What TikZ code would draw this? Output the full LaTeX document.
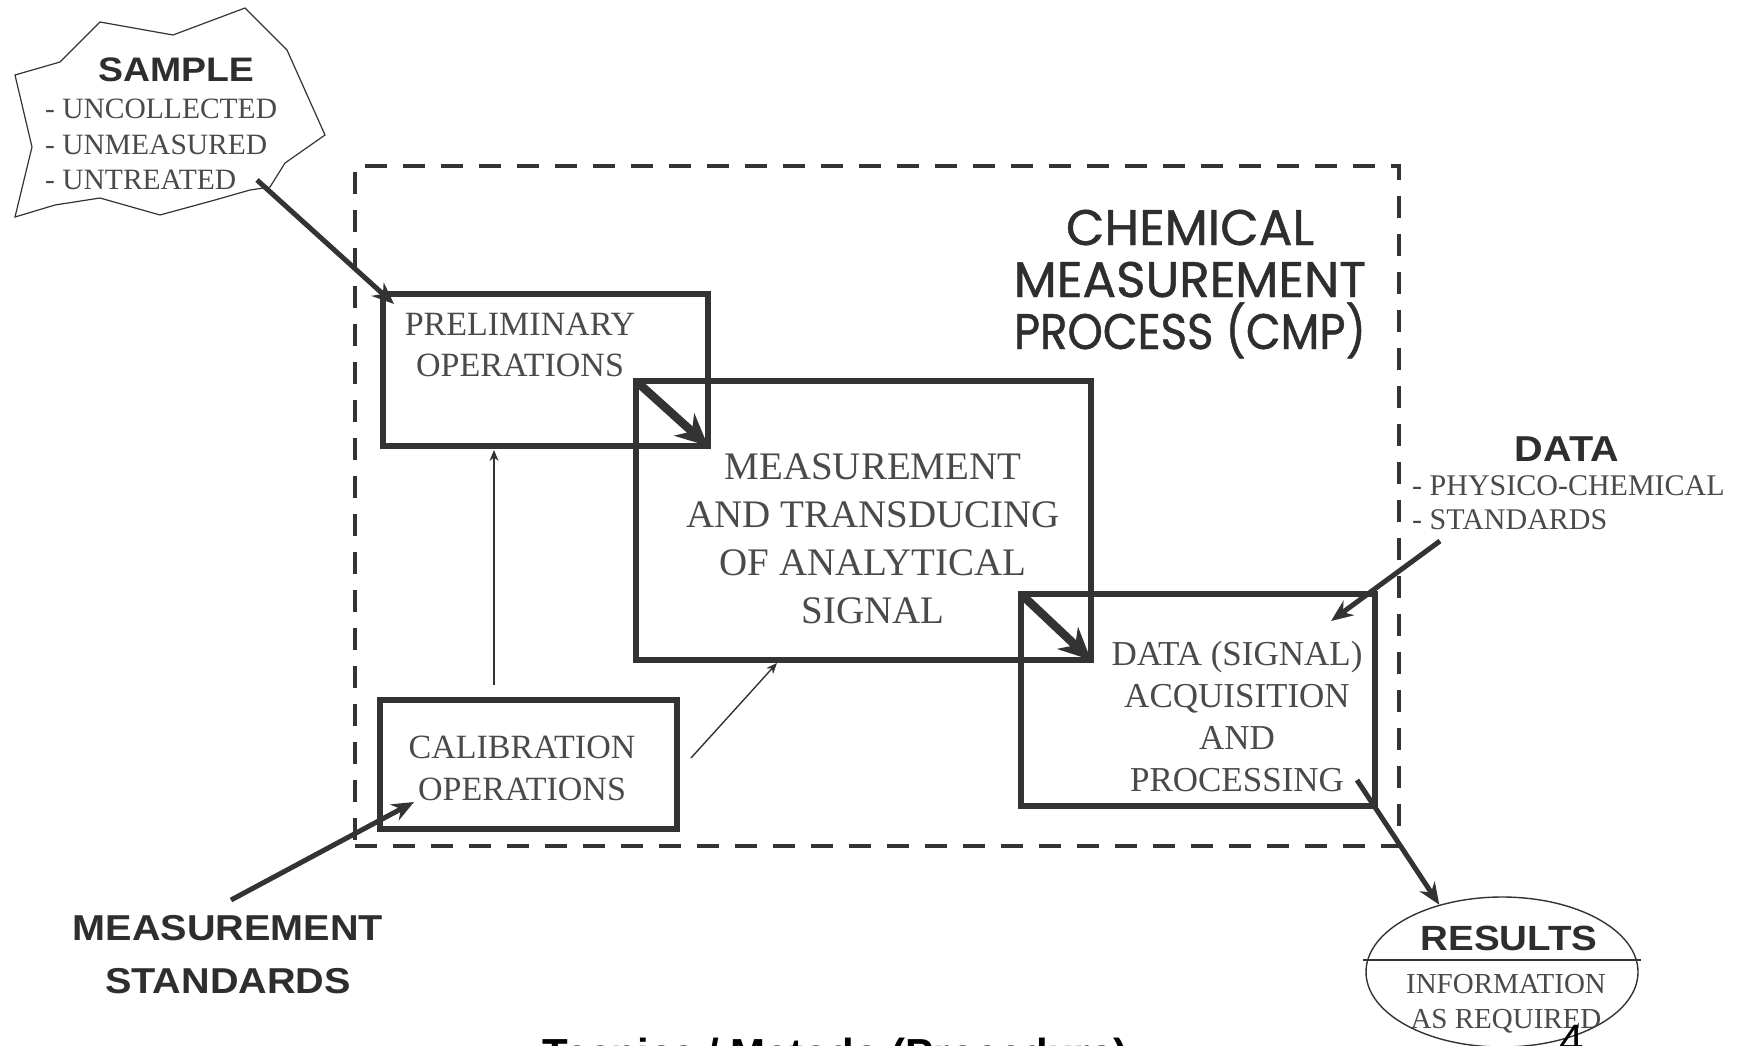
\documentclass[tikz,border=0pt]{standalone}
\usepackage{fontspec}
\setmainfont{Liberation Serif}
\newfontfamily\hdfont[FakeStretch=1.1]{Liberation Sans}
\newfontfamily\ttlfont{Liberation Sans}
\newfontfamily\cmpfont[FakeBold=0.9]{Poppins}
\newfontfamily\cmpnarrow[FakeBold=0.9,FakeStretch=0.9]{Poppins}
\usetikzlibrary{arrows.meta,shapes.geometric,calc}
\definecolor{ink}{HTML}{333333}
\definecolor{txt}{HTML}{4a4a4a}
\definecolor{hdc}{HTML}{2e2e2e}
\begin{document}
\begin{tikzpicture}[x=1pt,y=-1pt,
  opbox/.style={draw=ink,line width=5.5pt,inner sep=0pt,outer sep=0pt},
  serif/.style={text=txt,inner sep=0pt,align=center,font=\fontsize{#1}{#1}\selectfont},
  hd/.style={text=hdc,inner sep=0pt,align=center,font=\hdfont\bfseries\fontsize{#1}{#1}\selectfont},
  bigarrow/.style={draw=ink,line width=8.5pt,-{Stealth[length=32pt,width=30pt]}},
  midarrow/.style={draw=ink,line width=5pt,-{Stealth[length=22pt,width=18pt]}},
  thinarrow/.style={draw=ink,line width=1.4pt,-{Stealth[length=11pt,width=9pt]}}
]
\useasboundingbox (0,0) rectangle (1740,1045);
\clip (0,0) rectangle (1740,1045);
\fill[white] (0,0) rectangle (1740,1045);

% dashed CMP frame
\node[draw=ink,line width=3.5pt,dash pattern=on 22pt off 16pt,inner sep=0pt,
      minimum width=1044pt,minimum height=680pt] (cmp) at (877,506) {};

% sample cloud
\draw[ink,line width=1.2pt] (15,75) -- (60,62) -- (100,22) -- (173,35) -- (245,8) -- (287,50)
  -- (325,135) -- (285,163) -- (270,187) -- (250,190) -- (215,200) -- (160,215)
  -- (100,198) -- (55,205) -- (15,217) -- (32,147) -- cycle;
\node[hd=34] (samplet) at (176,70) {SAMPLE};
\node[serif=29.5,align=left,anchor=west,font=\fontsize{29.5}{35.5}\selectfont] (samplel) at (45,144.5)
  {- UNCOLLECTED\\- UNMEASURED\\- UNTREATED};
\coordinate (sampleout) at (257,180);

% boxes
\node[opbox,minimum width=325pt,minimum height=152pt] (prel) at (545.5,370) {};
\node[opbox,minimum width=455pt,minimum height=279pt] (meas) at (863.5,520.5) {};
\node[opbox,minimum width=354pt,minimum height=212pt] (data) at (1198,700) {};
\node[opbox,minimum width=297pt,minimum height=129pt] (cal) at (528.5,764.5) {};

\node[serif=34,font=\fontsize{34}{41}\selectfont] (prelt) at (520,344.5) {PRELIMINARY\\OPERATIONS};
\node[serif=39,font=\fontsize{39}{48}\selectfont] (meast) at (873,539) {MEASUREMENT\\AND TRANSDUCING\\OF ANALYTICAL\\SIGNAL};
\node[serif=35,font=\fontsize{35}{42}\selectfont] (datat) at (1237,717) {DATA (SIGNAL)\\ACQUISITION\\AND\\PROCESSING};
\node[serif=34,font=\fontsize{34}{42}\selectfont] (calt) at (522,768) {CALIBRATION\\OPERATIONS};

% CMP title
\node[text=hdc,inner sep=0pt,align=center,font=\cmpfont\fontsize{50}{52}\selectfont] (cmpt) at (1190,284)
  {CHEMICAL\\MEASUREMENT\\{\cmpnarrow PROCESS (CMP)}};

% DATA label
\node[hd=36] (datal) at (1567,449) {DATA};
\node[serif=30,align=left,anchor=west,font=\fontsize{30}{34}\selectfont] (datall) at (1412,502.5)
  {- PHYSICO-CHEMICAL\\- STANDARDS};
\coordinate (dataout) at (1440,541);
\coordinate (datain) at (1331,621);

% measurement standards
\node[hd=36,font=\hdfont\bfseries\fontsize{36}{53}\selectfont] (ms) at (228,954.5) {MEASUREMENT\\STANDARDS};
\coordinate (msout) at (231,900);
\coordinate (calin) at (414,802);

% results
\node[draw=ink,line width=1.4pt,ellipse,inner sep=0pt,minimum width=272pt,minimum height=150pt] (res) at (1502,972) {};
\draw[ink,line width=1.8pt] ($(res.west)+(-2,-12)$) -- ($(res.east)+(2,-12)$);
\node[hd=35] (rest) at (1509,938) {RESULTS};
\node[serif=29,font=\fontsize{29}{35}\selectfont] (resl) at (1506,1004) {INFORMATION\\AS REQUIRED};
\coordinate (dataoutb) at (1357,780);

% page number and caption
\node[text=black,inner sep=0pt,anchor=base,font=\ttlfont\fontsize{44}{44}\selectfont] (pg) at (1572,1055) {4};
\node[text=black,inner sep=0pt,anchor=base,font=\ttlfont\bfseries\fontsize{42}{42}\selectfont] (cap) at (835,1068)
  {Tecnica / Metodo (Procedura)};

% connectors
\draw[midarrow] (sampleout) -- ($(prel.north west)+(11,10)$);
\draw[bigarrow,shorten <=3pt] (meas.north west) -- (prel.south east);
\draw[bigarrow,shorten <=3pt] (data.north west) -- (meas.south east);
\draw[thinarrow] ($(cal.north)+(-34.5,-15)$) -- ($(prel.south)+(-51.5,4)$);
\draw[thinarrow] ($(cal.east)+(14,-6.5)$) -- ($(meas.south)+(-86.5,3)$);
\draw[midarrow] (dataout) -- (datain);
\draw[midarrow] (dataoutb) -- (res.133);
\draw[midarrow] (msout) -- (calin);
\end{tikzpicture}
\end{document}
